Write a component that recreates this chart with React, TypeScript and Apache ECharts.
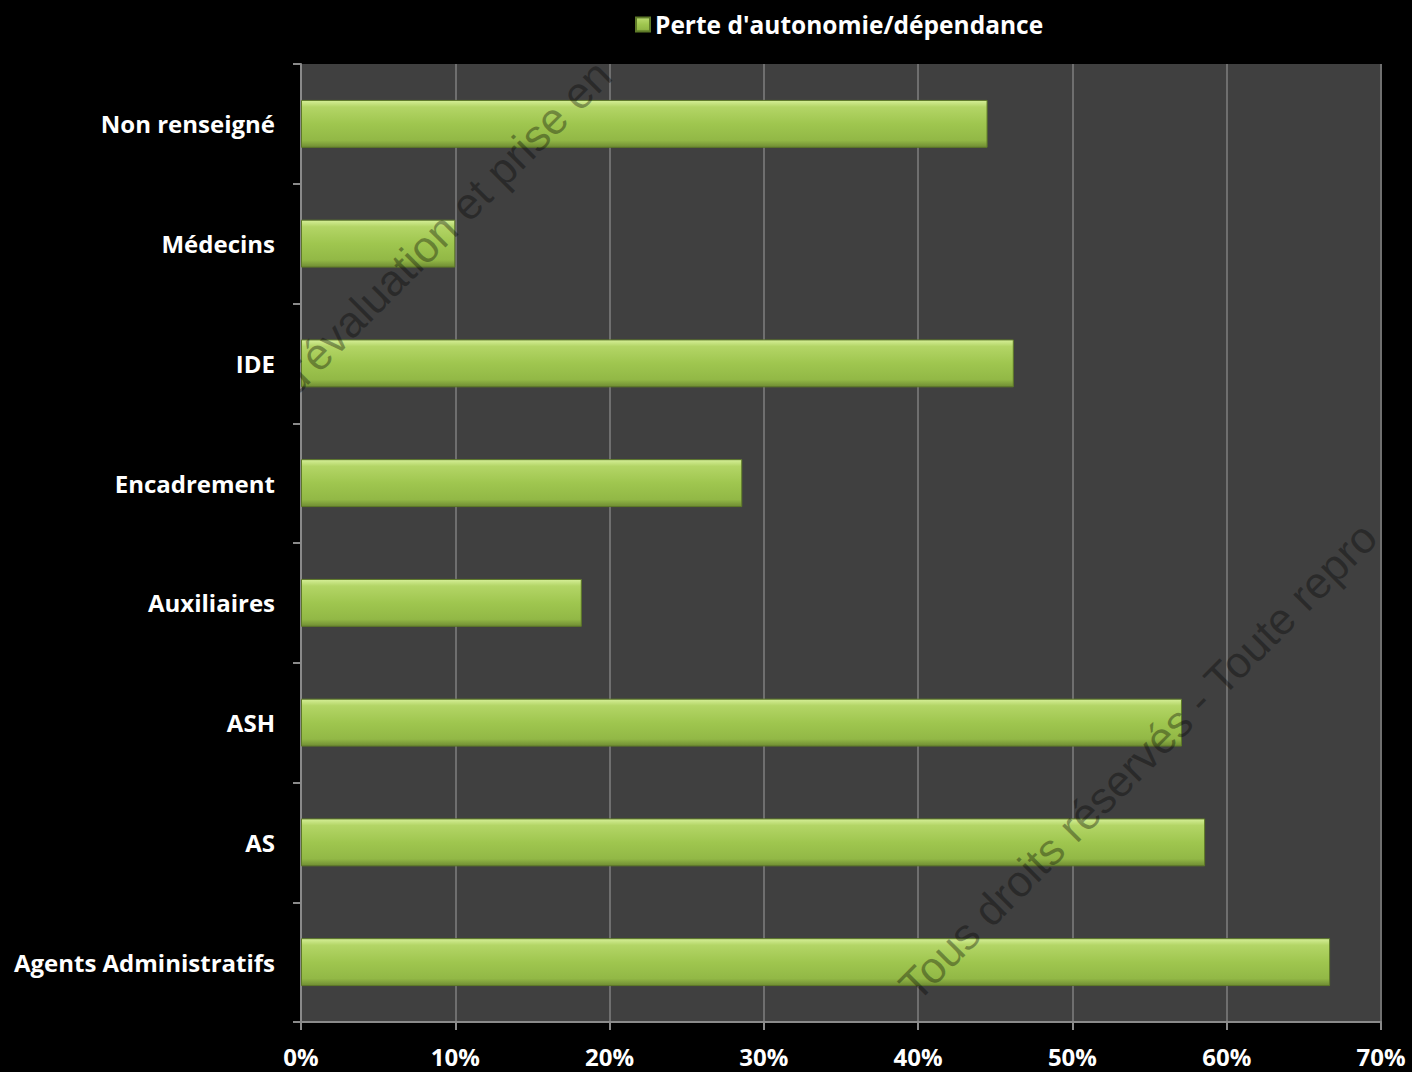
import React, { useEffect, useRef } from "react";
import * as echarts from "echarts";

const categories = [
  "Non renseigné",
  "Médecins",
  "IDE",
  "Encadrement",
  "Auxiliaires",
  "ASH",
  "AS",
  "Agents Administratifs",
];
const values = [44.5, 10.0, 46.2, 28.6, 18.2, 57.1, 58.6, 66.7];
const seriesName = "Perte d'autonomie/dépendance";
const xTicks = { min: 0, max: 70, interval: 10 };

export default function App() {
  const ref = useRef<HTMLDivElement>(null);
  useEffect(() => {
    if (!ref.current) return;
    const chart = echarts.init(ref.current, null, { renderer: "svg" });
    const barColor = new echarts.graphic.LinearGradient(0, 0, 0, 1, [
      { offset: 0, color: "#d6ef98" },
      { offset: 0.14, color: "#b3d566" },
      { offset: 0.5, color: "#9fc64f" },
      { offset: 0.85, color: "#92b846" },
      { offset: 1, color: "#6f8c33" },
    ]);
    const font = "'Open Sans', Lato, sans-serif";
    chart.setOption({
      animation: false,
      backgroundColor: "#000000",
      legend: {
        top: 7,
        left: 630,
        icon: "rect",
        itemWidth: 14,
        itemHeight: 14,
        itemGap: 9,
        textStyle: { color: "#ffffff", fontSize: 24.5, fontWeight: "bold", fontFamily: font },
        data: [seriesName],
      },
      grid: {
        left: 301,
        right: 31,
        top: 64,
        bottom: 50,
        show: true,
        backgroundColor: "#404040",
        borderWidth: 0,
      },
      xAxis: {
        type: "value",
        min: xTicks.min,
        max: xTicks.max,
        interval: xTicks.interval,
        axisLine: { show: true, lineStyle: { color: "#8a8a8a", width: 2 } },
        axisTick: { show: true, length: 8, lineStyle: { color: "#8a8a8a", width: 2 } },
        splitLine: { show: true, lineStyle: { color: "#6f6f6f", width: 2 } },
        axisLabel: {
          formatter: "{value}%",
          color: "#ffffff",
          fontSize: 24,
          fontWeight: "bold",
          fontFamily: font,
          margin: 22,
        },
      },
      yAxis: {
        type: "category",
        data: categories,
        inverse: true,
        axisLine: { show: true, lineStyle: { color: "#8a8a8a", width: 2 } },
        axisTick: { show: true, length: 8, lineStyle: { color: "#8a8a8a", width: 2 } },
        axisLabel: {
          color: "#ffffff",
          fontSize: 24,
          fontWeight: "bold",
          fontFamily: font,
          margin: 26,
        },
      },
      series: [
        {
          name: seriesName,
          type: "bar",
          data: values,
          barWidth: "40%",
          itemStyle: { color: barColor, borderColor: "#5e7a28", borderWidth: 1 },
        },
      ],
      graphic: [
        {
          type: "text",
          x: 300,
          y: 402,
          rotation: Math.PI / 4,
          z: 100,
          style: {
            text: "d'évaluation et prise en",
            fontSize: 44,
            fontFamily: "'Liberation Sans', Arial, sans-serif",
            fill: "rgba(0,0,0,0.35)",
            textAlign: "left",
            textVerticalAlign: "bottom",
          },
        },
        {
          type: "text",
          x: 922,
          y: 1008,
          rotation: Math.PI / 4,
          z: 100,
          style: {
            text: "Tous droits réservés - Toute repro",
            fontSize: 44,
            fontFamily: "'Liberation Sans', Arial, sans-serif",
            fill: "rgba(0,0,0,0.35)",
            textAlign: "left",
            textVerticalAlign: "bottom",
          },
        },
      ],
    });
    return () => chart.dispose();
  }, []);
  return (
    <div
      ref={ref}
      style={{ position: "fixed", left: 0, top: 0, width: 1412, height: 1072, background: "#000" }}
    />
  );
}
